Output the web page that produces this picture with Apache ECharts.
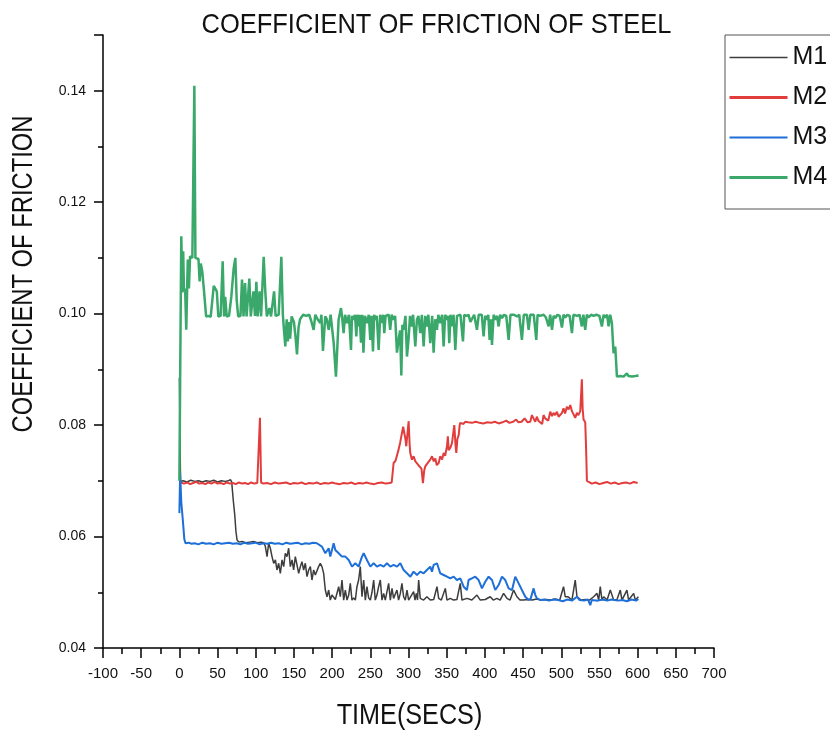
<!DOCTYPE html>
<html><head><meta charset="utf-8">
<script src="https://cdn.jsdelivr.net/npm/echarts@6/dist/echarts.min.js"></script>
<style>html,body{margin:0;padding:0;background:#fff}#c{width:830px;height:731px}</style>
</head><body><div id="c"></div>
<script>
const seriesNames = ['M1','M2','M3','M4'];
const seriesColors = ['#3d3d3d','#e23d3d','#1f6fd8','#3aa86a'];
const xTicks = {min:-100, max:700, step:50};
const yTicks = {min:0.04, max:0.15, step:0.02};

const m1Data = [[0,0.0885],[1.5,0.0699],[5,0.0700],[10,0.0698],[15,0.0701],[20,0.0699],[25,0.0700],[30,0.0698],[35,0.0700],[40,0.0699],[45,0.0701],[50,0.0698],[55,0.0700],[60,0.0699],[64,0.0700],[66.8,0.0702],[68.5,0.0698],[70.5,0.0666],[72.5,0.0639],[74,0.0610],[75.5,0.0594],[78,0.0590],[82,0.0591],[87,0.0589],[92,0.0590],[97,0.0591],[102,0.0589],[107,0.0590],[110.5,0.0589],
[112.6,0.0582],[114.8,0.0564],[116.9,0.0588],[119.1,0.0579],[121.3,0.0564],[123.5,0.0552],[125.7,0.0558],[127.8,0.0540],[130,0.0552],[132.2,0.0534],[134.4,0.0558],[136.6,0.0546],[138.7,0.0570],[140.9,0.0564],[143.1,0.0579],[145.3,0.0546],[147.5,0.0558],[149.6,0.0540],[151.8,0.0564],[154,0.0549],[156.2,0.0534],[158.4,0.0546],[160.5,0.0555],[162.7,0.0540],[164.9,0.0552],[167.1,0.0528],[169.3,0.0540],[171.5,0.0546],[173.6,0.0522],[175.8,0.0540],[178,0.0531],[180.2,0.0534],[182.3,0.0546],[184.5,0.0552],[186.7,0.0546],[188.9,0.0534],[191.1,0.0504],[193.3,0.0492],[195.5,0.0504],[197.6,0.0486],[199.8,0.0495],[202,0.0492],[204.2,0.0487],[206.4,0.0486],[208.6,0.0510],[210.7,0.0492],[212.9,0.0522],[215.1,0.0486],[217.3,0.0504],[219.5,0.0486],[221.7,0.0495],[223.8,0.0516],[226,0.0486],[228.2,0.0490],[230.4,0.0486],[232.5,0.0510],[234.7,0.0522],[236.9,0.0546],[239.1,0.0492],[241.3,0.0522],[243.5,0.0486],[245.6,0.0510],[247.8,0.0490],[250,0.0486],[252.2,0.0500],[254.4,0.0522],[256.5,0.0486],[258.7,0.0495],[260.9,0.0510],[263.1,0.0522],[265.3,0.0486],[267.5,0.0498],[269.6,0.0486],[271.8,0.0489],[274,0.0516],[276.2,0.0486],[278.4,0.0507],[280.5,0.0489],[282.7,0.0486],[284.9,0.0504],[287,0.0486],[289.3,0.0498],[291.4,0.0516],[293.6,0.0492],[295.8,0.0486],[298,0.0504],[300.2,0.0486],[302.4,0.0489],[306.7,0.0501],[308.5,0.0486],[310.2,0.0498],[311.8,0.0486],[313.3,0.0522],[315.4,0.0489],[319.8,0.0486],[324.1,0.0492],[328.5,0.0486],[333,0.0487],[337.3,0.0510],[339.5,0.0489],[343,0.0486],[348.2,0.0507],[350.4,0.0486],[354.7,0.0489],[359,0.0486],[363.4,0.0487],[367.8,0.0516],[370,0.0486],[376.5,0.0489],[383,0.0486],[389.6,0.0495],[394,0.0486],[400.5,0.0487],[407,0.0492],[411,0.0486],[415.8,0.0489],[420,0.0486],[424.5,0.0498],[428.9,0.0489],[433,0.0486],[437.6,0.0504],[442,0.0492],[446,0.0486],[450.7,0.0486],[456,0.0487],[462,0.0486],[468,0.0488],[474,0.0486],[480,0.0487],[486,0.0486],[492,0.0488],[498,0.0486],[503,0.0510],[505.2,0.0492],[509,0.0492],[514,0.0486],[518.3,0.0522],[520.6,0.0492],[526,0.0486],[532,0.0487],[537,0.0486],[542.4,0.0492],[546.8,0.0498],[549,0.0486],[551.1,0.0510],[553.3,0.0486],[555.5,0.0492],[560,0.0486],[564.2,0.0504],[568.6,0.0486],[573,0.0487],[577.3,0.0504],[579.5,0.0486],[581.7,0.0489],[586,0.0504],[588.2,0.0486],[590.4,0.0489],[594.8,0.0498],[597,0.0486],[601,0.0492]];

const m2Data = [[2,0.0697],[6,0.0695],[10,0.0697],[14,0.0694],[18,0.0696],[22,0.0698],[26,0.0695],[30,0.0696],[34,0.0694],[38,0.0697],[42,0.0695],[46,0.0698],[50,0.0695],[54,0.0696],[58,0.0694],[62,0.0697],[66,0.0695],[70,0.0696],[74,0.0694],[78,0.0697],[82,0.0695],[86,0.0696],[90,0.0694],[94,0.0697],[98,0.0695],[102,0.0696],[104,0.0695],[105.5,0.0813],[107,0.0697],[110,0.0695],[115,0.0696],[120,0.0694],[125,0.0697],[130,0.0695],[135,0.0696],[140,0.0697],[145,0.0694],[150,0.0696],[155,0.0695],[160,0.0697],[165,0.0694],[170,0.0696],[175,0.0695],[180,0.0697],[185,0.0694],[190,0.0696],[195,0.0695],[200,0.0697],[205,0.0695],[210,0.0694],[215,0.0696],[220,0.0695],[225,0.0697],[230,0.0694],[235,0.0696],[240,0.0695],[245,0.0697],[250,0.0695],[255,0.0694],[260,0.0696],[265,0.0697],[270,0.0695],[275,0.0696],[278,0.0697],
[280.5,0.0732],[283,0.0736],[285,0.0746],[287,0.0756],[289,0.0768],[291.4,0.0770],[293,0.0797],[294.5,0.0800],[296,0.0775],[297.1,0.0762],[299,0.0790],[300.2,0.0807],[301.5,0.0765],[302.3,0.0750],[304.5,0.0738],[306.7,0.0744],[309,0.0735],[311,0.0732],[313,0.0728],[315.4,0.0726],[317,0.0722],[318.9,0.0696],[320.5,0.0718],[322,0.0726],[324,0.0730],[326.4,0.0732],[328.5,0.0738],[330.8,0.0744],[333,0.0735],[335.1,0.0740],[337,0.0728],[339.5,0.0732],[341.6,0.0744],[344,0.0738],[346,0.0750],[348,0.0745],[350.4,0.0762],[351.5,0.0780],[352.6,0.0755],[355,0.0760],[357,0.0768],[359,0.0790],[360,0.0800],[361.5,0.0765],[362.6,0.0750],[364,0.0775],[365.7,0.0782],[367,0.0800],[367.8,0.0804],[370,0.0807],[372,0.0802],[374.3,0.0806],
[378,0.0805],[383,0.0804],[388,0.0806],[393,0.0804],[398,0.0803],[403,0.0805],[408,0.0804],[413,0.0806],[418,0.0803],[423,0.0805],[428,0.0808],[432,0.0804],[437,0.0806],[441,0.0810],[444,0.0805],[448,0.0806],[452,0.0812],[456,0.0805],[459.4,0.0806],[461.6,0.0818],[463.7,0.0812],[466,0.0806],[468,0.0815],[470,0.0808],[472.4,0.0810],[475,0.0802],[476.8,0.0818],[479,0.0812],[481.2,0.0813],[483,0.0808],[485.6,0.0824],[488,0.0816],[489.9,0.0822],[492,0.0818],[494.3,0.0824],[496.5,0.0815],[498.7,0.0813],[501,0.0822],[503,0.0830],[505,0.0821],[507.4,0.0833],[509.6,0.0828],[511.8,0.0836],[514,0.0825],[516.2,0.0825],[518.3,0.0813],[520.5,0.0822],[522.5,0.0818],[524.9,0.0825],[527,0.0882],[528,0.0830],[529.2,0.0810],[531.4,0.0805],[532.5,0.0760],[533.6,0.0700],[535.8,0.0697],[540,0.0695],[545,0.0697],[550,0.0694],[555,0.0696],[560,0.0698],[565,0.0695],[570,0.0697],[575,0.0694],[580,0.0696],[585,0.0697],[590,0.0695],[595,0.0698],[600,0.0696]];

const m3Data = [[0,0.0642],[1,0.0714],[2.5,0.0662],[4.5,0.0630],[5.5,0.0632],[6.5,0.0595],[8,0.0588],[12,0.0589],[16,0.0587],[20,0.0588],[25,0.0586],[30,0.0589],[35,0.0587],[40,0.0588],[45,0.0586],[50,0.0589],[55,0.0587],[60,0.0588],[65,0.0589],[70,0.0587],[75,0.0588],[80,0.0586],[85,0.0589],[90,0.0587],[95,0.0588],[100,0.0589],[105,0.0586],[110,0.0588],[115,0.0587],[120,0.0589],[125,0.0587],[130,0.0588],[135,0.0586],[140,0.0589],[145,0.0587],[150,0.0588],[155,0.0589],[160,0.0586],[165,0.0588],[170,0.0587],[175,0.0589],[180,0.0588],
[182.3,0.0588],[186.7,0.0582],[191.1,0.0570],[195.5,0.0579],[197.6,0.0564],[202,0.0588],[204.2,0.0576],[208.6,0.0570],[212.9,0.0564],[217.3,0.0564],[221.7,0.0558],[226,0.0546],[230.4,0.0552],[234.7,0.0546],[239.1,0.0564],[241.3,0.0570],[245.6,0.0558],[250,0.0546],[254.4,0.0552],[258.7,0.0546],
[263.1,0.0549],[267.5,0.0546],[271.8,0.0552],[276.2,0.0546],[280.5,0.0549],[284.9,0.0546],[289.3,0.0552],[293.6,0.0540],[298,0.0534],[302.4,0.0528],[306.7,0.0537],[311.1,0.0531],[315.4,0.0537],[319.8,0.0534],[324.1,0.0540],[328.5,0.0546],[330.7,0.0537],[332.9,0.0549],[337.3,0.0552],[341.6,0.0534],[346,0.0531],[350.4,0.0528],[354.7,0.0525],[359.1,0.0528],[363.4,0.0522],[367.8,0.0525],[372.2,0.0510],[376.5,0.0504],[378.7,0.0522],[383,0.0525],[387.4,0.0528],[391.8,0.0522],[396.2,0.0507],[400.5,0.0519],[404.9,0.0528],[409.3,0.0522],[413.6,0.0504],[418,0.0513],[422.4,0.0528],[426.7,0.0522],[431.1,0.0507],[435.5,0.0504],[439.8,0.0528],[444.2,0.0516],[448.5,0.0504],[452.9,0.0492],[457.3,0.0486],[460,0.0489],[463.8,0.0507],[466,0.0495],[468.2,0.0489],[472.6,0.0486],[478,0.0487],[484,0.0485],[490,0.0487],[496,0.0486],[502,0.0484],[508,0.0487],[514,0.0485],[520.6,0.0492],[524,0.0486],[530,0.0485],[535,0.0487],[538,0.0477],[540,0.0486],[542.4,0.0486],[548,0.0485],[554,0.0487],[560,0.0485],[566,0.0487],[568.6,0.0489],[574,0.0485],[580,0.0486],[586,0.0484],[592,0.0487],[598,0.0485],[601,0.0488]];

const m4Data = [[0,0.0700],[1,0.0880],[2.5,0.1139],[4,0.1038],[5,0.1112],[6,0.1040],[7.5,0.1045],[9,0.0971],[11,0.1097],[12.5,0.1045],[14,0.1103],[17,0.1100],[19.6,0.1409],[21,0.1100],[23,0.1100],[25,0.1098],[26.5,0.1058],[28,0.1090],[30,0.1075],[32,0.1045],[35,0.0995],[38,0.0996],[41,0.0994],[43,0.0996],[45,0.1050],[47,0.1052],[49,0.1040],[51,0.0995],[54,0.0996],[56.7,0.1094],[58.5,0.0995],[60,0.1030],[62,0.0995],[65,0.0996],[68,0.1030],[71,0.1080],[73.3,0.1100],[75,0.1025],[77,0.0995],[80,0.0996],[82,0.1061],[84,0.0995],[86,0.1055],[88,0.0995],[91.6,0.1063],[93.5,0.0995],[97,0.1040],[99,0.0996],[100.8,0.1057],[102.5,0.0995],[105,0.1040],[107,0.0995],[110.4,0.1102],[112.5,0.1040],[114.5,0.0995],[118,0.1010],[120,0.0995],[124,0.1040],[126,0.0996],[130,0.0998],[133.5,0.1102],[135.5,0.0998],[137,0.0970],[138.7,0.0941],[140.5,0.0990],[142,0.0950],[143.5,0.0985],[145,0.0955],[147,0.0995],[150,0.0985],[152,0.0960],[154,0.0927],[156,0.0975],[158,0.0990],[162,0.0998],[166,0.0996],[170,0.0998],[173,0.0985],[175.8,0.0971],[178,0.0998],[181,0.0990],[184.5,0.0983],[186,0.0998],[188,0.0933],[191,0.0995],[193,0.0990],[195.5,0.0971],[198,0.0998],[202,0.0948],[205,0.0887],[208.5,0.0989],[211.6,0.1010],[213,0.0995],[215,0.0965],[217,0.0998],[219.4,0.0983],[222,0.0998],[224.7,0.0935],[226,0.0996],[228,0.0989],[230,0.0998],[231.7,0.0959],[233,0.0998],[234.7,0.0977],[236,0.0998],[237.8,0.0948],[239.5,0.0998],[241,0.0930],[243,0.0996],[245.6,0.0983],[248,0.0998],[250,0.0953],[251.5,0.0996],[253.5,0.0932],[255,0.0998],[256.5,0.0989],[258.5,0.0996],[260.9,0.0935],[263,0.0998],[265.3,0.0983],[267,0.0998],[268.3,0.0965],[270,0.0996],[271.8,0.0995],[274,0.0998],[276,0.0971],[278,0.0998],[280.5,0.0989],[282.5,0.0996],[284.9,0.0930],[287,0.0953],[289,0.0970],[290.6,0.0889],[292,0.0980],[293.6,0.0971],[296,0.0996],[298,0.0923],[300,0.0953],[302,0.0996],[304,0.0977],[306,0.0998],[308.9,0.0941],[311,0.0989],[313,0.0996],[315.4,0.0965],[317.5,0.0998],[319.8,0.0941],[322,0.0996],[324,0.0977],[326,0.0998],[328.5,0.0947],[331,0.0996],[332.9,0.0930],[335,0.0990],[337.2,0.0971],[339,0.0998],[341.6,0.0983],[344,0.0998],[346,0.0941],[348,0.0998],[350.4,0.0989],[352,0.0996],[353.4,0.0947],[355,0.0998],[356.9,0.0977],[359,0.0998],[361.3,0.0935],[363.5,0.0996],[365.6,0.0995],[368,0.0998],[371.3,0.0950],[373,0.0998],[376,0.0996],[378.7,0.0998],[381,0.0985],[383,0.0983],[386,0.0998],[389.6,0.0971],[392,0.0998],[394,0.0995],[396,0.0998],[398.3,0.0959],[400.5,0.0996],[402.7,0.0989],[404.5,0.0998],[406.2,0.0953],[408,0.0990],[409.3,0.0944],[411.5,0.0998],[413.6,0.0989],[416,0.0996],[418,0.0977],[420,0.0998],[422.4,0.0992],[425,0.0998],[428,0.0996],[431.1,0.0953],[433.5,0.0998],[435.5,0.0995],[438,0.0998],[442,0.0995],[445,0.0998],[448.5,0.0953],[451,0.0998],[452.9,0.0996],[455,0.0998],[457.3,0.0971],[459.5,0.0998],[461.6,0.0995],[464,0.0998],[467.3,0.0953],[469,0.0998],[472,0.0996],[476.9,0.0998],[480,0.0993],[483.5,0.0977],[485.5,0.0998],[487.9,0.0971],[490,0.0996],[492.2,0.0992],[495,0.0998],[498,0.0996],[500.9,0.0975],[503,0.0998],[505.2,0.0993],[508,0.0998],[511,0.0996],[514,0.0965],[516,0.0998],[518.3,0.0998],[521,0.0996],[524,0.0998],[527,0.0977],[529,0.0998],[531.4,0.0971],[533.5,0.0998],[535.8,0.0993],[539,0.0998],[542.3,0.0996],[546,0.0998],[550,0.0996],[553.2,0.0977],[555.5,0.0998],[557.6,0.0993],[560,0.0998],[562,0.0977],[564.1,0.0998],[566.3,0.0983],[568.5,0.0929],[570.7,0.0941],[572.9,0.0887],[575,0.0890],[577.2,0.0888],[579.5,0.0891],[581.6,0.0887],[584,0.0889],[586,0.0893],[588,0.0888],[590.3,0.0890],[592.5,0.0887],[594.7,0.0889],[597,0.0888],[601.2,0.0889]];

const allData = [m1Data, m2Data, m3Data, m4Data];
const lineWidths = [1.5, 2, 2, 2.5];
const legendLineWidths = [1.5, 3, 1.8, 3];

const tickFont = "'Liberation Sans',Arial,sans-serif";
const chart = echarts.init(document.getElementById('c'), null, {renderer:'canvas'});
const axisBlack = {color:'#000', width:1.5};
chart.setOption({
  animation:false,
  backgroundColor:'#fff',
  grid:{left:103, right:116, top:35, bottom:83, containLabel:false, outerBoundsMode:'none'},
  xAxis:{type:'value', min:xTicks.min, max:xTicks.max, interval:xTicks.step,
    axisLine:{show:true, onZero:false, lineStyle:axisBlack},
    axisTick:{show:true, length:10, lineStyle:axisBlack},
    minorTick:{show:true, splitNumber:2, length:6, lineStyle:axisBlack},
    splitLine:{show:false}, minorSplitLine:{show:false},
    axisLabel:{margin:18, fontSize:15, fontFamily:tickFont, color:'#111'}},
  yAxis:[
    {type:'value', min:yTicks.min, max:yTicks.max, interval:yTicks.step,
     axisLine:{show:true, onZero:false, lineStyle:axisBlack},
     axisTick:{show:true, length:9, lineStyle:axisBlack},
     splitLine:{show:false},
     axisLabel:{margin:17, fontSize:14, fontFamily:tickFont, color:'#111',
       formatter: v => (v > 0.145 ? '' : v.toFixed(2))}},
    {type:'value', min:yTicks.min, max:yTicks.max, interval:0.01, position:'right', offset:-611,
     axisLine:{show:false, onZero:false}, axisTick:{show:true, inside:true, length:5, lineStyle:axisBlack},
     axisLabel:{show:false}, splitLine:{show:false}}
  ],
  legend:{orient:'vertical', left:725, top:35,
    data: seriesNames.map((n,i)=>({name:n, lineStyle:{width:legendLineWidths[i]}})),
    itemStyle:{opacity:0},
    borderColor:'#555', borderWidth:1, padding:[10,30,19,3], itemGap:15, itemWidth:58, itemHeight:24,
    textStyle:{fontSize:25, fontFamily:"'Liberation Sans',Arial,sans-serif", color:'#111'}},
  graphic:[
    {type:'text', x:436.5, y:25, scaleX:0.91, style:{text:'COEFFICIENT OF FRICTION OF STEEL', font:"28px 'Liberation Sans'", fill:'#111', textAlign:'center', textVerticalAlign:'middle'}},
    {type:'text', x:24, y:274, rotation:Math.PI/2, scaleX:0.82, style:{text:'COEFFICIENT OF FRICTION', font:"29px 'Liberation Sans'", fill:'#111', textAlign:'center', textVerticalAlign:'middle'}},
    {type:'text', x:409.5, y:716, scaleX:0.84, style:{text:'TIME(SECS)', font:"30px 'Liberation Sans'", fill:'#111', textAlign:'center', textVerticalAlign:'middle'}}
  ],
  series: seriesNames.map((n,i)=>({name:n, type:'line', xAxisIndex:0, yAxisIndex:0, data:allData[i],
    symbol:'none', showSymbol:false, smooth:false, color:seriesColors[i],
    lineStyle:{color:seriesColors[i], width:lineWidths[i]}, z:2+i}))
});
</script></body></html>
